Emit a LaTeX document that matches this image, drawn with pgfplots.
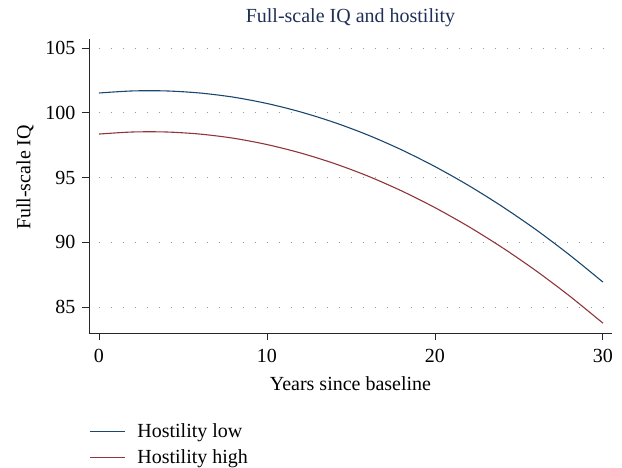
\documentclass[border=0pt]{standalone}
\usepackage{fontspec}
\setmainfont{Liberation Serif}
\usepackage{pgfplots}
\pgfplotsset{compat=1.18}
\definecolor{sblue}{HTML}{1A476F}
\definecolor{sred}{HTML}{90353B}
\definecolor{stitle}{HTML}{1F2F57}
\begin{document}
\begin{tikzpicture}[font=\fontsize{20}{24}\selectfont]
\useasboundingbox (0,0) rectangle (622pt,468pt);
\begin{axis}[
  at={(89pt,135pt)}, anchor=south west,
  scale only axis, width=523pt, height=294pt,
  xmin=-0.595, xmax=30.54, ymin=83.0, ymax=105.7,
  axis x line*=bottom, axis y line*=left,
  axis line style={line width=0.9pt, black!85},
  xtick={0,10,20,30}, ytick={85,90,95,100,105},
  tick align=outside, major tick length=7pt,
  tick style={line width=0.9pt, black!85},
  xticklabel style={yshift=-6pt},
  yticklabel style={xshift=-3pt},
  /pgf/number format/assume math mode=true,
  ymajorgrids, xmajorgrids=false,
  major grid style={gray!80, line width=1.1pt, dash pattern=on 1.1pt off 10.9pt, dash phase=2pt},
  title={Full-scale IQ and hostility},
  title style={text=stitle, at={(axis description cs:0.5,1.034)}, anchor=base},
  xlabel={Years since baseline},
  xlabel style={at={(axis description cs:0.5,-0.195)}, anchor=base},
  ylabel={Full-scale IQ},
  ylabel style={at={(axis description cs:-0.112,0.529)}, anchor=base},
  legend style={at={(axis description cs:0,-0.30)}, anchor=north west, draw=none, fill=none,
    inner sep=0pt, row sep=7pt, nodes={inner sep=2pt, anchor=base west},
    /tikz/every odd column/.style={column sep=10pt}},
  legend cell align=left,
  legend image code/.code={\draw[#1, line width=1.2pt] (0pt,6pt) -- (35pt,6pt);},
]
\addplot[sblue, line width=1.1pt, smooth] coordinates {
(0,101.53) (2,101.69) (4,101.69) (6,101.53) (8,101.21) (10,100.72) (12,100.07) (14,99.26)
(16,98.29) (18,97.15) (20,95.85) (22,94.39) (24,92.77) (26,90.99) (28,89.04) (30,86.93)};
\addlegendentry{Hostility low}
\addplot[sred, line width=1.1pt, smooth] coordinates {
(0,98.36) (2,98.52) (4,98.52) (6,98.36) (8,98.04) (10,97.55) (12,96.90) (14,96.09)
(16,95.12) (18,93.98) (20,92.68) (22,91.22) (24,89.60) (26,87.82) (28,85.87) (30,83.76)};
\addlegendentry{Hostility high}
\end{axis}
\end{tikzpicture}
\end{document}
